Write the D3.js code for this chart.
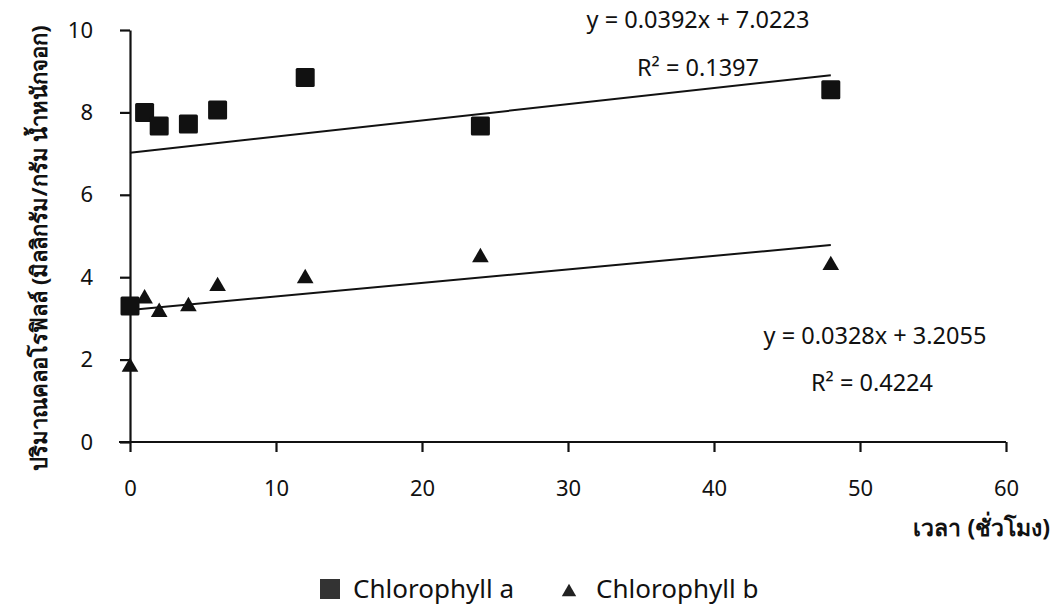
<!DOCTYPE html>
<html>
<head>
<meta charset="utf-8">
<script src="https://cdn.jsdelivr.net/npm/d3@7"></script>
<style>
  body { margin: 0; background: #fff; }
  svg text { font-family: "Noto Sans", "DejaVu Sans", sans-serif; fill: #111; }
</style>
</head>
<body>
<svg id="chart" width="1056" height="610"></svg>
<script>
// time (hours)
const hours = [0, 1, 2, 4, 6, 12, 24, 48];
const chlA = [3.3, 8.0, 7.67, 7.72, 8.06, 8.85, 7.67, 8.55];
const chlB = [1.82, 3.48, 3.15, 3.29, 3.78, 3.97, 4.48, 4.29];

const trendA = { slope: 0.0392, intercept: 7.0223, eq: "y = 0.0392x + 7.0223", r2: "R² = 0.1397" };
const trendB = { slope: 0.0328, intercept: 3.2055, eq: "y = 0.0328x + 3.2055", r2: "R² = 0.4224" };

const xTicks = [0, 10, 20, 30, 40, 50, 60];
const yTicks = [0, 2, 4, 6, 8, 10];

const svg = d3.select("#chart");

const x = d3.scaleLinear().domain([0, 60]).range([130, 1006]);
const y = d3.scaleLinear().domain([0, 10]).range([442, 30]);

// axes
const xAxis = svg.append("g")
    .attr("transform", `translate(0,${y(0)})`)
    .call(d3.axisBottom(x).tickValues(xTicks).tickSize(10).tickPadding(28).tickSizeOuter(0));
xAxis.select(".domain").attr("d", `M119,0H${x(60)}`);

const yAxis = svg.append("g")
    .attr("transform", `translate(${x(0)},0)`)
    .call(d3.axisLeft(y).tickValues(yTicks).tickSize(10).tickPadding(27).tickSizeOuter(0));

svg.selectAll(".domain, .tick line").attr("stroke", "#111").attr("stroke-width", 2.2);
svg.selectAll(".tick text").attr("font-size", 22).attr("fill", "#222");
xAxis.selectAll(".tick text").attr("dy", "0.71em");

// trend lines
[trendA, trendB].forEach(t => {
    svg.append("line")
        .attr("x1", x(0)).attr("y1", y(t.intercept))
        .attr("x2", x(48)).attr("y2", y(t.intercept + t.slope * 48))
        .attr("stroke", "#111").attr("stroke-width", 2);
});

// points
const tri = d3.symbol().type(d3.symbolTriangle).size(120);
svg.append("g").selectAll("path")
    .data(hours.map((h, i) => [h, chlB[i]]))
    .join("path")
    .attr("d", tri)
    .attr("transform", d => `translate(${x(d[0])},${y(d[1])})`)
    .attr("fill", "#111");

const sq = 19;
svg.append("g").selectAll("rect")
    .data(hours.map((h, i) => [h, chlA[i]]))
    .join("rect")
    .attr("x", d => x(d[0]) - sq / 2)
    .attr("y", d => y(d[1]) - sq / 2)
    .attr("width", sq).attr("height", sq)
    .attr("rx", 1.5)
    .attr("fill", "#111");

// equation labels
const label = (txt, cx, cy) => svg.append("text")
    .attr("x", cx).attr("y", cy)
    .attr("text-anchor", "middle").attr("dominant-baseline", "central")
    .attr("font-size", 23.5).attr("fill", "#222").text(txt);
label(trendA.eq, 698, 19);
label(trendA.r2, 698, 67);
label(trendB.eq, 875, 335);
label(trendB.r2, 872, 382);

// axis titles
svg.append("text")
    .attr("x", 1050).attr("y", 527)
    .attr("text-anchor", "end").attr("dominant-baseline", "central")
    .attr("font-size", 23).attr("font-weight", "bold")
    .text("เวลา (ชั่วโมง)");

svg.append("text")
    .attr("transform", "translate(38,248) rotate(-90)")
    .attr("text-anchor", "middle").attr("dominant-baseline", "central")
    .attr("font-size", 22).attr("font-weight", "bold")
    .text("ปริมาณคลอโรฟิลล์ (มิลลิกรัม/กรัม น้ำหนักจอก)");

// legend
const legend = svg.append("g").attr("transform", "translate(0,588)");
legend.append("rect").attr("x", 320).attr("y", -9).attr("width", 20).attr("height", 20).attr("fill", "#333");
legend.append("text").attr("x", 353).attr("y", 0).attr("dominant-baseline", "central")
    .attr("font-size", 26).attr("fill", "#333").text("Chlorophyll a");
legend.append("path").attr("d", d3.symbol().type(d3.symbolTriangle).size(90))
    .attr("transform", "translate(569,4)").attr("fill", "#222");
legend.append("text").attr("x", 596).attr("y", 0).attr("dominant-baseline", "central")
    .attr("font-size", 26).attr("fill", "#333").text("Chlorophyll b");
</script>
</body>
</html>
